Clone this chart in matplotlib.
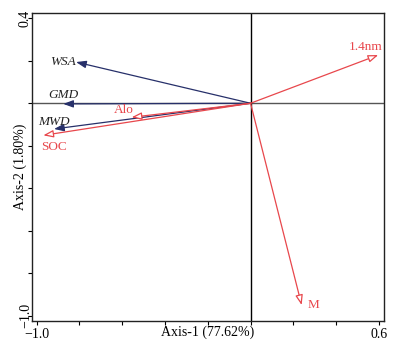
import numpy as np
import matplotlib
matplotlib.use('Agg')
import matplotlib.pyplot as plt

plt.rcParams['font.family'] = ['Liberation Serif', 'DejaVu Serif']

# response variables (blue, filled heads)
resp_names = ['WSA', 'GMD', 'MWD']
resp_x = [-0.816, -0.876, -0.919]
resp_y = [0.194, -0.003, -0.121]

# explanatory variables (red, open heads)
expl_names = ['SOC', 'Alo', '1.4nm', 'M']
expl_x = [-0.969, -0.556, 0.597, 0.239]
expl_y = [-0.151, -0.066, 0.227, -0.950]

xticks = [-1.0, -0.8, -0.6, -0.4, -0.2, 0.0, 0.2, 0.4, 0.6]
yticks = [-1.0, -0.8, -0.6, -0.4, -0.2, 0.0, 0.2, 0.4]

blue = '#27306a'
red = '#e8474c'

fig = plt.figure(figsize=(3.94, 3.51), dpi=100)
ax = fig.add_axes([0.0812, 0.0855, 0.8934, 0.8775])
ax.set_xlim(-1.022, 0.624)
ax.set_ylim(-1.025, 0.425)

ax.axhline(0, color='#555555', lw=1.0, zorder=1)
ax.axvline(0, color='black', lw=1.0, zorder=1)

for n, x, y in zip(resp_names, resp_x, resp_y):
    ax.annotate('', xy=(x, y), xytext=(0, 0),
                arrowprops=dict(arrowstyle='-|>,head_length=0.6,head_width=0.22',
                                color=blue, lw=0.9, shrinkA=0, shrinkB=0,
                                mutation_scale=10), zorder=3)

for n, x, y in zip(expl_names, expl_x, expl_y):
    ax.annotate('', xy=(x, y), xytext=(0, 0),
                arrowprops=dict(arrowstyle='-|>,head_length=0.6,head_width=0.22',
                                ec=red, fc='white', lw=0.9, shrinkA=0, shrinkB=0,
                                mutation_scale=10), zorder=3)

# labels: offset in points, alignment
resp_off = {'WSA': (0, 0, 'right', 'center'),
            'GMD': (0, 2, 'center', 'bottom'),
            'MWD': (0, 1, 'center', 'bottom')}
for n, x, y in zip(resp_names, resp_x, resp_y):
    dx, dy, ha, va = resp_off[n]
    ax.annotate(n, xy=(x, y), xytext=(dx, dy), textcoords='offset points',
                ha=ha, va=va, fontsize=9.5, style='italic', color='#222222')

expl_off = {'SOC': (8, -4, 'center', 'top'),
            'Alo': (-6, 1, 'center', 'bottom'),
            '1.4nm': (-9, 6, 'center', 'center'),
            'M': (4, 0, 'left', 'center')}
for n, x, y in zip(expl_names, expl_x, expl_y):
    dx, dy, ha, va = expl_off[n]
    ax.annotate(n, xy=(x, y), xytext=(dx, dy), textcoords='offset points',
                ha=ha, va=va, fontsize=9.5, color=red)

ax.set_xticks(xticks)
ax.set_yticks(yticks)
ax.set_xticklabels(['\u22121.0' if v == -1.0 else ('0.6' if v == 0.6 else '') for v in xticks])
ax.set_yticklabels(['\u22121.0' if v == -1.0 else ('0.4' if v == 0.4 else '') for v in yticks],
                   rotation=90, va='center')
ax.tick_params(direction='out', length=3, width=0.8, labelsize=10)
ax.tick_params(axis='x', pad=2)
ax.tick_params(axis='y', pad=-3)

ax.set_xlabel('Axis-1 (77.62%)', fontsize=10, labelpad=-11)
ax.set_ylabel('Axis-2 (1.80%)', fontsize=10, labelpad=-6)

for s in ax.spines.values():
    s.set_linewidth(1.0)
    s.set_color('#222222')

fig.savefig('out.png', dpi=100)
